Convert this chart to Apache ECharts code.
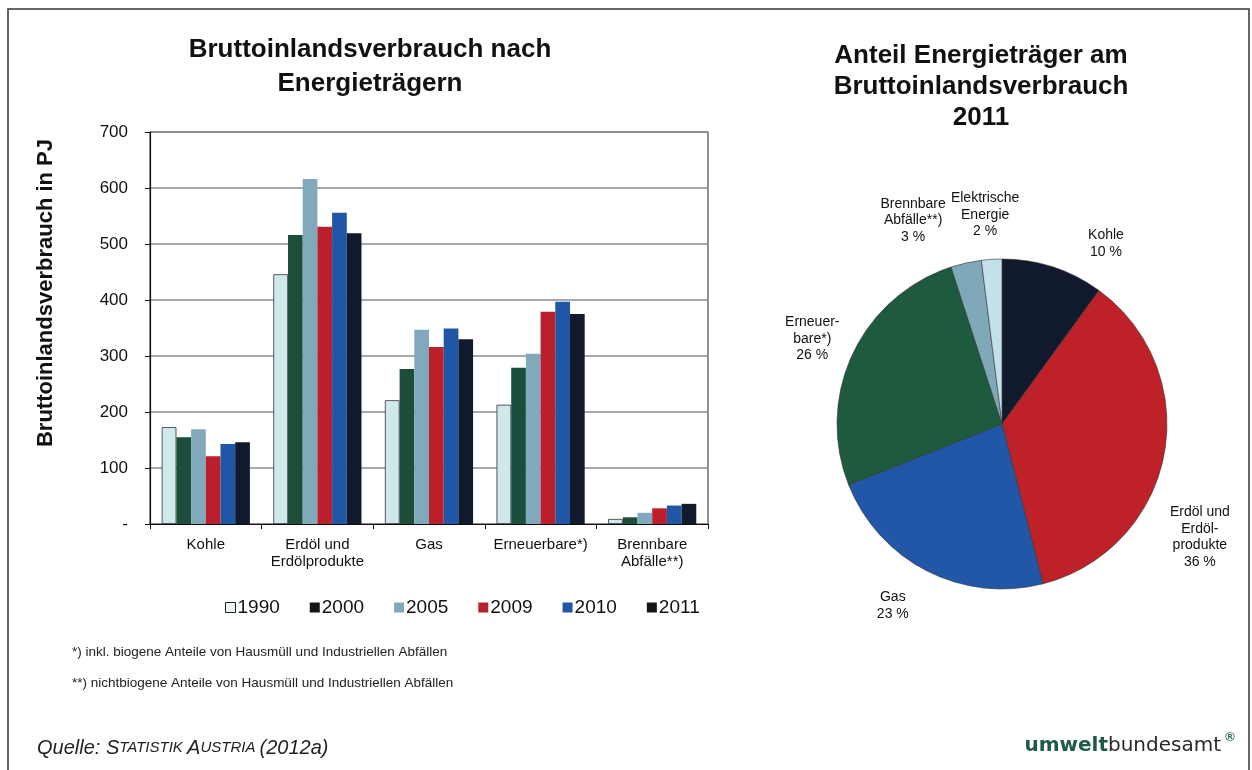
<!DOCTYPE html>
<html>
<head>
<meta charset="utf-8">
<script src="https://cdn.jsdelivr.net/npm/echarts@6/dist/echarts.min.js"></script>
<style>
  html, body { margin: 0; padding: 0; background: #fff; }
  #chart { width: 1252px; height: 770px; }
</style>
</head>
<body>
<div id="chart"></div>
<script>
// Gross inland consumption by energy carrier (PJ)
const categories = ['Kohle', 'Erdöl und\nErdölprodukte', 'Gas', 'Erneuerbare*)', 'Brennbare\nAbfälle**)'];
const years = ['1990', '2000', '2005', '2009', '2010', '2011'];
const v1990 = [173, 446, 221, 213, 9];
const v2000 = [155, 516, 277, 279, 12];
const v2005 = [169, 616, 347, 304, 20];
const v2009 = [121, 531, 316, 379, 28];
const v2010 = [143, 556, 349, 397, 33];
const v2011 = [146, 519, 330, 375, 36];
const yearValues = [v1990, v2000, v2005, v2009, v2010, v2011];

// Share of energy carriers in 2011 (%)
const pieNames = ['Kohle', 'Erdöl und Erdölprodukte', 'Gas', 'Erneuerbare', 'Brennbare Abfälle', 'Elektrische Energie'];
const pieLabels = ['Kohle', 'Erdöl und\nErdöl-\nprodukte', 'Gas', 'Erneuer-\nbare*)', 'Brennbare\nAbfälle**)', 'Elektrische\nEnergie'];
const pieShares = [10, 36, 23, 26, 3, 2];

// ---- styling / layout ----
const FONT = '"Liberation Sans", Arial, sans-serif';
const yearColors = ['#cfe8ec', '#1b4f3b', '#80a9bc', '#bb1f2b', '#1f56a6', '#101a2c'];
const legendIconColors = ['#eef7f7', '#141414', '#80a9bc', '#bb1f2b', '#1f56a6', '#141414'];
const pieColors = ['#101a2c', '#bf2129', '#2157a6', '#1d5a3e', '#7fa8b8', '#c4e0ea'];

const PIE_CENTER = [1002, 424];
const PIE_RADIUS = 165;
// per label: angular nudge from the slice mid-angle (deg) and distance from the centre (px)
const pieLabelPlacement = [[12, 208], [19, 228], [4, 212], [-1, 208], [-11, 222], [-1, 210]];

const pieTotal = pieShares.reduce((a, b) => a + b, 0);
const pieMidAngles = [];
(function () {
  let acc = 0;
  pieShares.forEach(v => { pieMidAngles.push((acc + v / 2) / pieTotal * 360); acc += v; });
})();

const chart = echarts.init(document.getElementById('chart'), null, { renderer: 'canvas' });

const barSeries = years.map((y, i) => ({
  type: 'bar',
  name: y,
  data: yearValues[i],
  barGap: '0%',
  barCategoryGap: '21%',
  itemStyle: i === 0
    ? { color: yearColors[i], borderColor: '#333', borderWidth: 0.8 }
    : { color: yearColors[i] },
  emphasis: { disabled: true }
}));

const option = {
  backgroundColor: '#ffffff',
  animation: false,
  textStyle: { fontFamily: FONT },
  title: [
    {
      text: 'Bruttoinlandsverbrauch nach\nEnergieträgern',
      left: 370, top: 33, textAlign: 'center', padding: 0,
      textStyle: { fontFamily: FONT, fontSize: 26, fontWeight: 'bold', lineHeight: 34, color: '#111' }
    },
    {
      text: 'Anteil Energieträger am\nBruttoinlandsverbrauch\n2011',
      left: 981, top: 40, textAlign: 'center', padding: 0,
      textStyle: { fontFamily: FONT, fontSize: 26, fontWeight: 'bold', lineHeight: 31, color: '#111' }
    }
  ],
  legend: {
    left: 220, top: 593,
    icon: 'rect', itemWidth: 10, itemHeight: 10, itemGap: 30,
    selectedMode: false,
    textStyle: { fontFamily: FONT, fontSize: 19, color: '#111', padding: [0, 0, 0, -3] },
    data: years.map((y, i) => ({
      name: y,
      itemStyle: i === 0
        ? { color: legendIconColors[i], borderColor: '#222', borderWidth: 1 }
        : { color: legendIconColors[i] }
    }))
  },
  grid: {
    left: 150, right: 544, top: 132, bottom: 246,
    show: true, borderColor: '#222', borderWidth: 1, backgroundColor: 'transparent'
  },
  xAxis: {
    type: 'category',
    data: categories,
    axisLine: { lineStyle: { color: '#111', width: 1.2 } },
    axisTick: { show: true, length: 5, alignWithLabel: false, lineStyle: { color: '#111' } },
    axisLabel: { fontFamily: FONT, fontSize: 15, lineHeight: 17, color: '#111', margin: 12, interval: 0 }
  },
  yAxis: {
    type: 'value',
    min: 0, max: 700, interval: 100,
    axisLine: { show: true, lineStyle: { color: '#111', width: 1.2 } },
    axisTick: { show: true, length: 5, lineStyle: { color: '#111' } },
    axisLabel: {
      fontFamily: FONT, fontSize: 17, color: '#111', margin: 22,
      formatter: v => (v === 0 ? '-' : String(v))
    },
    splitLine: { show: true, lineStyle: { color: '#8c8c8c', width: 1.5 } }
  },
  series: barSeries.concat([
    {
      type: 'pie',
      name: 'Anteil 2011',
      center: PIE_CENTER,
      radius: PIE_RADIUS,
      startAngle: 90,
      clockwise: true,
      avoidLabelOverlap: false,
      data: pieNames.map((n, i) => ({ name: n, value: pieShares[i], itemStyle: { color: pieColors[i] } })),
      itemStyle: { borderColor: '#333', borderWidth: 0.6 },
      label: {
        show: true,
        position: 'outside',
        fontFamily: FONT, fontSize: 14, lineHeight: 16.5, color: '#111',
        formatter: p => pieLabels[p.dataIndex] + '\n' + p.value + ' %'
      },
      labelLine: { show: false },
      labelLayout: p => {
        const i = p.dataIndex;
        const a = (pieMidAngles[i] + pieLabelPlacement[i][0]) * Math.PI / 180;
        const d = pieLabelPlacement[i][1];
        return {
          x: PIE_CENTER[0] + d * Math.sin(a),
          y: PIE_CENTER[1] - d * Math.cos(a),
          align: 'center',
          verticalAlign: 'middle'
        };
      },
      emphasis: { disabled: true }
    }
  ]),
  graphic: [
    // page frame
    {
      type: 'polyline', silent: true,
      shape: { points: [[8, 770], [8, 9], [1249, 9], [1249, 770]] },
      style: { stroke: '#333', lineWidth: 1.5, fill: null }
    },
    // value axis title
    {
      type: 'text', x: 46, y: 293, rotation: Math.PI / 2, silent: true,
      style: {
        text: 'Bruttoinlandsverbrauch in PJ',
        font: 'bold 22px ' + FONT, fill: '#111', align: 'center', verticalAlign: 'middle'
      }
    },
    // footnotes
    {
      type: 'text', x: 72, y: 652, silent: true,
      style: {
        text: '*) inkl. biogene Anteile von Hausmüll und Industriellen Abfällen',
        font: '13.5px ' + FONT, fill: '#222', verticalAlign: 'middle'
      }
    },
    {
      type: 'text', x: 72, y: 683, silent: true,
      style: {
        text: '**) nichtbiogene Anteile von Hausmüll und Industriellen Abfällen',
        font: '13.5px ' + FONT, fill: '#222', verticalAlign: 'middle'
      }
    },
    // source line
    {
      type: 'text', x: 37, y: 748, silent: true,
      style: {
        text: '{a|Quelle: }{a|S}{b|TATISTIK }{a|A}{b|USTRIA }{a|(2012a)}',
        verticalAlign: 'middle',
        rich: {
          a: { fontFamily: FONT, fontSize: 20, fontStyle: 'italic', fill: '#222' },
          b: { fontFamily: FONT, fontSize: 15, fontStyle: 'italic', fill: '#222' }
        }
      }
    },
    // publisher mark
    {
      type: 'text', x: 1221, y: 746, silent: true,
      style: {
        text: '{a|umwelt}{b|bundesamt}',
        align: 'right', verticalAlign: 'middle',
        rich: {
          a: { fontFamily: '"DejaVu Sans", ' + FONT, fontSize: 20, fontWeight: 'bold', fill: '#1d5a48' },
          b: { fontFamily: '"DejaVu Sans", ' + FONT, fontSize: 20, fill: '#2a2a2a' }
        }
      }
    },
    {
      type: 'text', x: 1230, y: 737, silent: true,
      style: { text: '®', font: 'bold 13px ' + FONT, fill: '#1d6a50', align: 'center', verticalAlign: 'middle' }
    }
  ]
};

chart.setOption(option);
</script>
</body>
</html>
